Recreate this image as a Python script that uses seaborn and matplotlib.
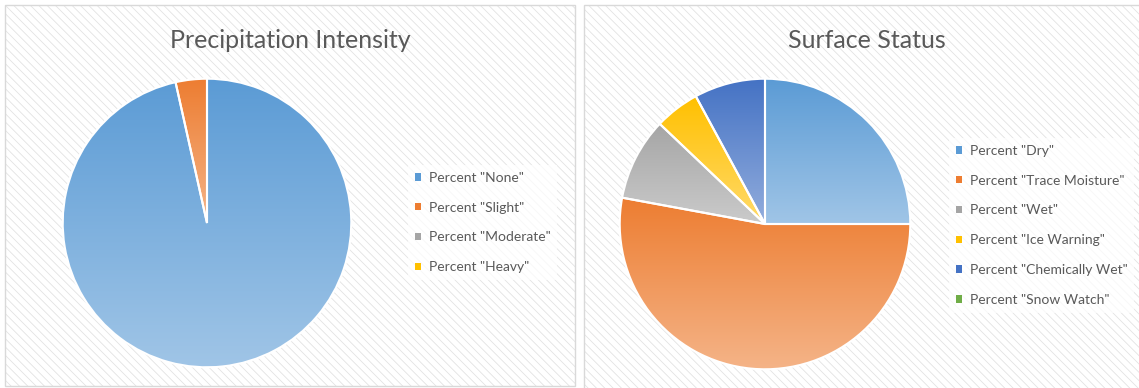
import matplotlib.pyplot as plt
import matplotlib.patches as mpatches
import numpy as np
import seaborn as sns

# data
precip_labels = ['Percent "None"', 'Percent "Slight"', 'Percent "Moderate"', 'Percent "Heavy"']
precip_values = [96.5, 3.5, 0, 0]

surface_labels = ['Percent "Dry"', 'Percent "Trace Moisture"', 'Percent "Wet"',
                  'Percent "Ice Warning"', 'Percent "Chemically Wet"', 'Percent "Snow Watch"']
surface_values = [25.0, 52.9, 9.2, 5.0, 7.9, 0]

office_colors = ["#5B9BD5", "#ED7D31", "#A5A5A5", "#FFC000", "#4472C4", "#70AD47"]

sns.set_theme(style="white")
plt.rcParams['font.family'] = ['Lato', 'DejaVu Sans']
plt.rcParams['hatch.linewidth'] = 0.6
palette = sns.color_palette(office_colors)

W, H = 1139, 388
fig = plt.figure(figsize=(W / 100, H / 100), dpi=100)
fig.patch.set_facecolor("white")


def box(x0, y0, x1, y1):
    # pixel box (top-left origin) -> figure fraction rect
    return [x0 / W, 1 - y1 / H, (x1 - x0) / W, (y1 - y0) / H]


def panel(x0, y0, x1, y1):
    l, b, w, h = box(x0, y0, x1, y1)
    fig.patches.append(mpatches.Rectangle((l, b), w, h, transform=fig.transFigure,
                                          facecolor="white", edgecolor="#e3e3e3",
                                          hatch="\\\\\\\\", linewidth=0, zorder=-2))
    fig.patches.append(mpatches.Rectangle((l, b), w, h, transform=fig.transFigure,
                                          facecolor="none", edgecolor="#d9d9d9",
                                          linewidth=1, zorder=-1))


def gradient_pie(ax, values, colors):
    vals = [v for v in values if v > 0]
    cols = [c for v, c in zip(values, colors) if v > 0]
    wedges, _ = ax.pie(vals, startangle=90, counterclock=False, colors=cols,
                       wedgeprops=dict(edgecolor="white", linewidth=1.5))
    for w, c in zip(wedges, cols):
        c = np.array(c)
        light = c + (1 - c) * 0.42
        t = np.linspace(0, 1, 256)[:, None]
        grad = (c[None, :] * (1 - t) + light[None, :] * t)[:, None, :]
        ext = w.get_path().get_extents()
        im = ax.imshow(grad, extent=(ext.x0, ext.x1, ext.y0, ext.y1), origin="upper",
                       aspect="auto", interpolation="bilinear", zorder=w.get_zorder() - 0.1)
        im.set_clip_path(w)
        w.set_facecolor("none")
    ax.set_xlim(-1.005, 1.005)
    ax.set_ylim(-1.005, 1.005)
    ax.set_aspect("equal")
    ax.axis("off")


def legend(labels, colors, x, y):
    handles = [mpatches.Patch(facecolor=c, edgecolor="none") for c in colors]
    leg = fig.legend(handles, labels, loc="upper left", bbox_to_anchor=(x / W, 1 - y / H),
                     fontsize=10, labelspacing=1.28, handlelength=0.45, handleheight=0.45,
                     handletextpad=0.55, borderpad=0.5, frameon=True, fancybox=False,
                     facecolor="white", framealpha=0.75, edgecolor="none", labelcolor="#595959")
    return leg


# left panel
panel(5, 5, 575, 386)
fig.text(290 / W, 1 - 40 / H, "Precipitation Intensity", ha="center", va="center",
         fontsize=18, color="#595959")
ax1 = fig.add_axes(box(62, 78, 352, 368), zorder=1)
gradient_pie(ax1, precip_values, palette[:4])
legend(precip_labels, palette[:4], 401, 158)

# right panel (cut off at the right edge)
panel(584, 5, 1160, 392)
fig.text(867 / W, 1 - 40 / H, "Surface Status", ha="center", va="center",
         fontsize=18, color="#595959")
ax2 = fig.add_axes(box(619, 78, 911, 370), zorder=1)
gradient_pie(ax2, surface_values, palette[:6])
legend(surface_labels, palette[:6], 942, 131)

fig.savefig("out.png", dpi=100)
